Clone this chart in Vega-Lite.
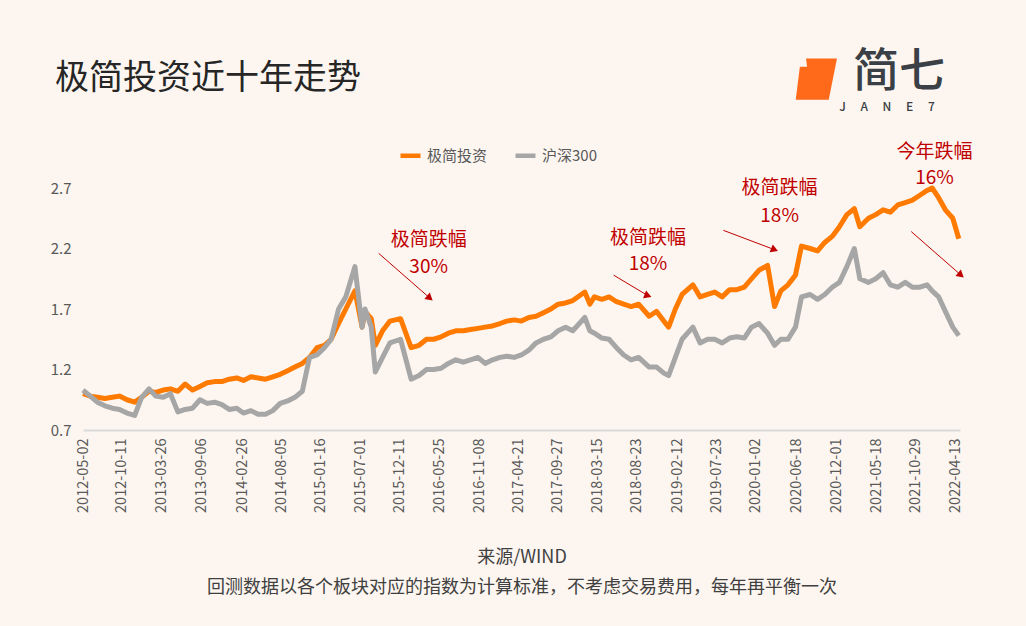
{
  "$schema": "https://vega.github.io/schema/vega-lite/v6.json",
  "width": 877,
  "height": 242,
  "autosize": "none",
  "padding": {"left": 83, "top": 188, "right": 66, "bottom": 196},
  "background": "#fdf6f0",
  "title": {"text": "极简投资近十年走势", "anchor": "start", "frame": "group", "dx": -28, "offset": -47, "fontSize": 34, "fontWeight": "normal", "color": "#262626", "font": "Noto Sans CJK SC"},
  "datasets": {
    "series": [
      {"d":"2012-05-02","o":1.00,"g":1.03},{"d":"2012-06-01","o":0.98,"g":0.98},{"d":"2012-07-01","o":0.97,"g":0.93},{"d":"2012-08-01","o":0.96,"g":0.90},{"d":"2012-09-01","o":0.97,"g":0.88},{"d":"2012-10-01","o":0.98,"g":0.87},{"d":"2012-11-01","o":0.95,"g":0.84},{"d":"2012-12-03","o":0.93,"g":0.82},
      {"d":"2013-01-01","o":0.97,"g":0.97},{"d":"2013-02-01","o":1.02,"g":1.04},{"d":"2013-03-01","o":1.01,"g":0.98},{"d":"2013-04-01","o":1.03,"g":0.97},{"d":"2013-05-01","o":1.04,"g":1.00},{"d":"2013-06-01","o":1.02,"g":0.85},{"d":"2013-07-01","o":1.08,"g":0.87},{"d":"2013-08-01","o":1.03,"g":0.88},{"d":"2013-09-01","o":1.06,"g":0.95},{"d":"2013-10-01","o":1.09,"g":0.92},{"d":"2013-11-01","o":1.10,"g":0.93},{"d":"2013-12-01","o":1.10,"g":0.91},
      {"d":"2014-01-01","o":1.12,"g":0.87},{"d":"2014-02-01","o":1.13,"g":0.88},{"d":"2014-03-01","o":1.11,"g":0.84},{"d":"2014-04-01","o":1.14,"g":0.86},{"d":"2014-05-01","o":1.13,"g":0.83},{"d":"2014-06-01","o":1.12,"g":0.83},{"d":"2014-07-01","o":1.14,"g":0.86},{"d":"2014-08-01","o":1.16,"g":0.92},{"d":"2014-09-01","o":1.19,"g":0.94},{"d":"2014-10-01","o":1.22,"g":0.97},{"d":"2014-11-01","o":1.25,"g":1.02},{"d":"2014-12-01","o":1.30,"g":1.30},
      {"d":"2015-01-01","o":1.38,"g":1.32},{"d":"2015-02-01","o":1.40,"g":1.38},{"d":"2015-03-01","o":1.45,"g":1.45},{"d":"2015-04-01","o":1.58,"g":1.70},{"d":"2015-05-01","o":1.70,"g":1.80},{"d":"2015-06-08","o":1.85,"g":2.05},{"d":"2015-07-08","o":1.55,"g":1.55},{"d":"2015-07-20","o":1.68,"g":1.70},{"d":"2015-08-15","o":1.62,"g":1.55},{"d":"2015-09-01","o":1.40,"g":1.18},{"d":"2015-10-01","o":1.52,"g":1.30},{"d":"2015-11-01","o":1.60,"g":1.42},{"d":"2015-12-15","o":1.62,"g":1.45},
      {"d":"2016-01-28","o":1.38,"g":1.12},{"d":"2016-03-01","o":1.40,"g":1.15},{"d":"2016-04-01","o":1.45,"g":1.20},{"d":"2016-05-01","o":1.45,"g":1.20},{"d":"2016-06-01","o":1.47,"g":1.21},{"d":"2016-07-01","o":1.50,"g":1.25},{"d":"2016-08-01","o":1.52,"g":1.28},{"d":"2016-09-01","o":1.52,"g":1.26},{"d":"2016-10-01","o":1.53,"g":1.28},{"d":"2016-11-01","o":1.54,"g":1.30},{"d":"2016-12-01","o":1.55,"g":1.25},
      {"d":"2017-01-01","o":1.56,"g":1.28},{"d":"2017-02-01","o":1.58,"g":1.30},{"d":"2017-03-01","o":1.60,"g":1.31},{"d":"2017-04-01","o":1.61,"g":1.30},{"d":"2017-05-01","o":1.60,"g":1.32},{"d":"2017-06-01","o":1.63,"g":1.36},{"d":"2017-07-01","o":1.64,"g":1.42},{"d":"2017-08-01","o":1.67,"g":1.45},{"d":"2017-09-01","o":1.70,"g":1.47},{"d":"2017-10-01","o":1.74,"g":1.52},{"d":"2017-11-01","o":1.75,"g":1.55},{"d":"2017-12-01","o":1.77,"g":1.52},
      {"d":"2018-01-20","o":1.84,"g":1.63},{"d":"2018-02-10","o":1.74,"g":1.52},{"d":"2018-03-01","o":1.80,"g":1.50},{"d":"2018-04-01","o":1.78,"g":1.46},{"d":"2018-05-01","o":1.80,"g":1.45},{"d":"2018-06-01","o":1.76,"g":1.38},{"d":"2018-07-01","o":1.74,"g":1.32},{"d":"2018-08-01","o":1.72,"g":1.28},{"d":"2018-09-01","o":1.74,"g":1.30},{"d":"2018-10-15","o":1.64,"g":1.22},{"d":"2018-11-15","o":1.68,"g":1.22},{"d":"2018-12-15","o":1.60,"g":1.17},
      {"d":"2019-01-04","o":1.55,"g":1.15},{"d":"2019-02-01","o":1.70,"g":1.30},{"d":"2019-03-01","o":1.82,"g":1.45},{"d":"2019-04-15","o":1.90,"g":1.55},{"d":"2019-05-15","o":1.80,"g":1.42},{"d":"2019-06-15","o":1.82,"g":1.45},{"d":"2019-07-15","o":1.84,"g":1.45},{"d":"2019-08-15","o":1.80,"g":1.42},{"d":"2019-09-15","o":1.86,"g":1.46},{"d":"2019-10-15","o":1.86,"g":1.47},{"d":"2019-11-15","o":1.88,"g":1.46},{"d":"2019-12-15","o":1.95,"g":1.55},
      {"d":"2020-01-15","o":2.02,"g":1.58},{"d":"2020-02-20","o":2.06,"g":1.50},{"d":"2020-03-20","o":1.72,"g":1.40},{"d":"2020-04-15","o":1.85,"g":1.45},{"d":"2020-05-15","o":1.90,"g":1.45},{"d":"2020-06-15","o":1.98,"g":1.55},{"d":"2020-07-10","o":2.22,"g":1.80},{"d":"2020-08-15","o":2.20,"g":1.82},{"d":"2020-09-15","o":2.18,"g":1.78},{"d":"2020-10-15","o":2.25,"g":1.82},{"d":"2020-11-15","o":2.30,"g":1.88},{"d":"2020-12-15","o":2.38,"g":1.92},
      {"d":"2021-01-15","o":2.48,"g":2.05},{"d":"2021-02-15","o":2.53,"g":2.20},{"d":"2021-03-10","o":2.38,"g":1.95},{"d":"2021-04-15","o":2.45,"g":1.92},{"d":"2021-05-15","o":2.48,"g":1.95},{"d":"2021-06-15","o":2.52,"g":2.00},{"d":"2021-07-15","o":2.50,"g":1.90},{"d":"2021-08-15","o":2.56,"g":1.88},{"d":"2021-09-15","o":2.58,"g":1.92},{"d":"2021-10-15","o":2.60,"g":1.88},{"d":"2021-11-15","o":2.64,"g":1.88},{"d":"2021-12-15","o":2.68,"g":1.90},
      {"d":"2022-01-05","o":2.70,"g":1.85},{"d":"2022-02-01","o":2.62,"g":1.80},{"d":"2022-03-01","o":2.52,"g":1.68},{"d":"2022-04-01","o":2.45,"g":1.55},{"d":"2022-04-26","o":2.28,"g":1.48}
    ],
    "notes": [
      {"d":"2016-04-10","v":2.27,"t":"极简跌幅"},{"d":"2016-04-10","v":2.05,"t":"30%"},
      {"d":"2018-10-10","v":2.29,"t":"极简跌幅"},{"d":"2018-10-10","v":2.07,"t":"18%"},
      {"d":"2020-04-10","v":2.70,"t":"极简跌幅"},{"d":"2020-04-10","v":2.47,"t":"18%"},
      {"d":"2022-01-15","v":3.00,"t":"今年跌幅"},{"d":"2022-01-15","v":2.78,"t":"16%"}
    ],
    "arrows": [
      {"d1":"2015-09-15","v1":2.16,"d2":"2016-04-15","v2":1.79,"a":130},
      {"d1":"2018-05-20","v1":1.98,"d2":"2018-10-10","v2":1.81,"a":111},
      {"d1":"2019-08-20","v1":2.35,"d2":"2020-03-20","v2":2.19,"a":112},
      {"d1":"2021-10-10","v1":2.34,"d2":"2022-05-05","v2":1.98,"a":130}
    ],
    "logo": [
      {"d":"2021-08-20","v":3.66,"t":"简七","k":"big"},
      {"d":"2021-07-01","v":3.37,"t":"J\u2003 A\u2003 N\u2003 E\u2003 7","k":"small"}
    ]
  },
  "layer": [
    {
      "data": {"name": "series"},
      "transform": [
        {"fold": ["o", "g"], "as": ["k", "val"]},
        {"calculate": "datum.k == 'o' ? '极简投资' : '沪深300'", "as": "name"}
      ],
      "mark": {"type": "line", "strokeWidth": 5, "strokeJoin": "round"},
      "encoding": {
        "x": {
          "field": "d", "type": "temporal",
          "scale": {"type": "utc", "domain": [{"year": 2012, "month": 5, "date": 2, "utc": true}, {"year": 2022, "month": 5, "date": 1, "utc": true}], "nice": false},
          "axis": {
            "values": [
              {"year":2012,"month":5,"date":2,"utc":true},{"year":2012,"month":10,"date":11,"utc":true},{"year":2013,"month":3,"date":26,"utc":true},{"year":2013,"month":9,"date":6,"utc":true},{"year":2014,"month":2,"date":26,"utc":true},{"year":2014,"month":8,"date":5,"utc":true},{"year":2015,"month":1,"date":16,"utc":true},{"year":2015,"month":7,"date":1,"utc":true},{"year":2015,"month":12,"date":11,"utc":true},{"year":2016,"month":5,"date":25,"utc":true},{"year":2016,"month":11,"date":8,"utc":true},{"year":2017,"month":4,"date":21,"utc":true},{"year":2017,"month":9,"date":27,"utc":true},{"year":2018,"month":3,"date":15,"utc":true},{"year":2018,"month":8,"date":23,"utc":true},{"year":2019,"month":2,"date":12,"utc":true},{"year":2019,"month":7,"date":23,"utc":true},{"year":2020,"month":1,"date":2,"utc":true},{"year":2020,"month":6,"date":18,"utc":true},{"year":2020,"month":12,"date":1,"utc":true},{"year":2021,"month":5,"date":18,"utc":true},{"year":2021,"month":10,"date":29,"utc":true},{"year":2022,"month":4,"date":13,"utc":true}
            ],
            "labelExpr": "utcFormat(datum.value, '%Y-%m-%d')",
            "labelAngle": 270, "labelFontSize": 14.5, "labelColor": "#595959", "labelPadding": 8,
            "ticks": false, "grid": false, "domainColor": "#d9d9d9", "domainWidth": 2,
            "labelOverlap": false, "labelSeparation": 0, "labelBound": false, "labelFlush": false, "tickCount": 30,
            "title": ["来源/WIND", "回测数据以各个板块对应的指数为计算标准，不考虑交易费用，每年再平衡一次"],
            "titleFontSize": 18, "titleFontWeight": "normal", "titleColor": "#404040", "titlePadding": 36, "titleLineHeight": 30
          }
        },
        "y": {
          "field": "val", "type": "quantitative",
          "scale": {"domain": [0.7, 2.7], "nice": false, "zero": false},
          "axis": {"values": [0.7, 1.2, 1.7, 2.2, 2.7], "format": ".1f", "grid": false, "ticks": false, "domain": false, "labelFontSize": 15, "labelColor": "#595959", "title": null, "labelPadding": 12}
        },
        "color": {
          "field": "name", "type": "nominal",
          "scale": {"domain": ["极简投资", "沪深300"], "range": ["#ff7a00", "#a6a6a6"]},
          "legend": {"orient": "none", "legendX": 315, "legendY": -45, "direction": "horizontal", "title": null, "symbolType": "stroke", "symbolStrokeWidth": 4.5, "symbolSize": 400, "labelFontSize": 15, "labelColor": "#595959", "columnPadding": 18}
        }
      }
    },
    {
      "data": {"name": "arrows"},
      "mark": {"type": "rule", "color": "#c00000", "strokeWidth": 1},
      "encoding": {
        "x": {"field": "d1", "type": "temporal"},
        "y": {"field": "v1", "type": "quantitative"},
        "x2": {"field": "d2"},
        "y2": {"field": "v2"}
      }
    },
    {
      "data": {"name": "arrows"},
      "mark": {"type": "point", "shape": "triangle-up", "filled": true, "color": "#c00000", "size": 70, "opacity": 1},
      "encoding": {
        "x": {"field": "d2", "type": "temporal"},
        "y": {"field": "v2", "type": "quantitative"},
        "angle": {"field": "a", "type": "quantitative", "scale": null}
      }
    },
    {
      "data": {"name": "notes"},
      "mark": {"type": "text", "color": "#c00000", "fontSize": 19, "font": "Noto Sans CJK SC"},
      "encoding": {
        "x": {"field": "d", "type": "temporal"},
        "y": {"field": "v", "type": "quantitative"},
        "text": {"field": "t"}
      }
    },
    {
      "data": {"name": "logo"},
      "mark": {"type": "text", "color": "#3a4045", "font": "Noto Sans CJK SC", "fontWeight": 500},
      "encoding": {
        "x": {"field": "d", "type": "temporal"},
        "y": {"field": "v", "type": "quantitative"},
        "text": {"field": "t"},
        "size": {"field": "k", "type": "nominal", "scale": {"domain": ["big", "small"], "range": [46, 12]}, "legend": null}
      }
    },
    {
      "data": {"values": [{"d": "2020-09-10", "v": 3.6}]},
      "mark": {"type": "point", "filled": true, "color": "#ff6a1a", "opacity": 1, "size": 1700, "shape": "M-0.5,-1 L1,-1 L0.6,1 L-1,1 L-0.8,-0.6 L-0.45,-0.6 Z"},
      "encoding": {
        "x": {"field": "d", "type": "temporal"},
        "y": {"field": "v", "type": "quantitative"}
      }
    }
  ],
  "config": {
    "view": {"stroke": null},
    "font": "Noto Sans CJK SC",
    "axisX": {"labelOverlap": false}
  }
}
